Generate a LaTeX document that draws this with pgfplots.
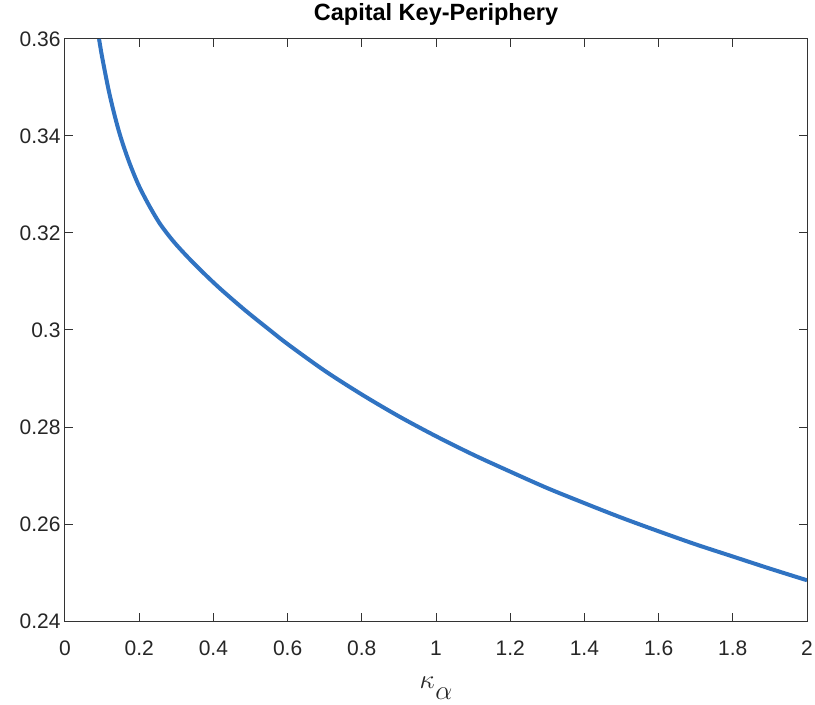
\RequirePackage{fix-cm}
\documentclass[border=0pt]{standalone}
\usepackage{pgfplots}
\pgfplotsset{compat=1.18}
\usepackage{fontspec}
\setmainfont{Liberation Sans}
\definecolor{mblue}{rgb}{0.19,0.45,0.76}
\definecolor{axgray}{rgb}{0.2,0.2,0.2}
\begin{document}
\begin{tikzpicture}
\begin{axis}[
  name=ax,
  scale only axis,
  width=742pt, height=582pt,
  xmin=0, xmax=2, ymin=0.24, ymax=0.36,
  xtick={0,0.2,0.4,0.6,0.8,1,1.2,1.4,1.6,1.8,2},
  ytick={0.24,0.26,0.28,0.30,0.32,0.34,0.36},
  xticklabels={0,0.2,0.4,0.6,0.8,1,1.2,1.4,1.6,1.8,2},
  yticklabels={0.24,0.26,0.28,0.3,0.32,0.34,0.36},
  tick align=inside,
  major tick length=8pt,
  axis line style={axgray, line width=1pt},
  every tick/.style={axgray, line width=1pt},
  tick label style={font=\fontsize{21}{25}\selectfont, text=black!85},
  /pgf/number format/assume math mode=true,
  xticklabel style={anchor=base, yshift=-34pt},
  yticklabel style={xshift=-1pt},
  title={\bfseries Capital Key-Periphery},
  title style={font=\fontsize{23.5}{27}\selectfont, at={(rel axis cs:0.5,1)}, anchor=base, yshift=12pt},
  xlabel={$\kappa\hspace{0.5pt}\raisebox{-11pt}{$\alpha$}$},
  xlabel style={font=\fontsize{27}{31}\selectfont, text=black!85, at={(rel axis cs:0.5,0)}, anchor=base, yshift=-67pt},
]
\coordinate (sw) at (rel axis cs:0,0);
\coordinate (ne) at (rel axis cs:1,1);
\addplot[mblue, line width=4pt, smooth, tension=0.5] coordinates {
(0.0918,0.3600)
(0.1000,0.3563)
(0.1167,0.3498)
(0.1300,0.3454)
(0.1437,0.3414)
(0.1570,0.3381)
(0.1750,0.3342)
(0.1976,0.3300)
(0.2250,0.3259)
(0.2560,0.3219)
(0.2920,0.3183)
(0.3300,0.3151)
(0.3728,0.3118)
(0.4200,0.3084)
(0.4850,0.3041)
(0.5500,0.3001)
(0.6000,0.2971)
(0.7000,0.2916)
(0.8000,0.2867)
(0.9000,0.2822)
(1.0000,0.2781)
(1.1000,0.2743)
(1.2000,0.2708)
(1.3000,0.2674)
(1.4000,0.2643)
(1.5000,0.2613)
(1.6000,0.2585)
(1.7000,0.2558)
(1.8000,0.2533)
(1.9000,0.2508)
(2.0000,0.2484)
};
\end{axis}
\pgfresetboundingbox
\path ([shift={(-65pt,-83pt)}]sw) rectangle ([shift={(8pt,39pt)}]ne);
\end{tikzpicture}
\end{document}
